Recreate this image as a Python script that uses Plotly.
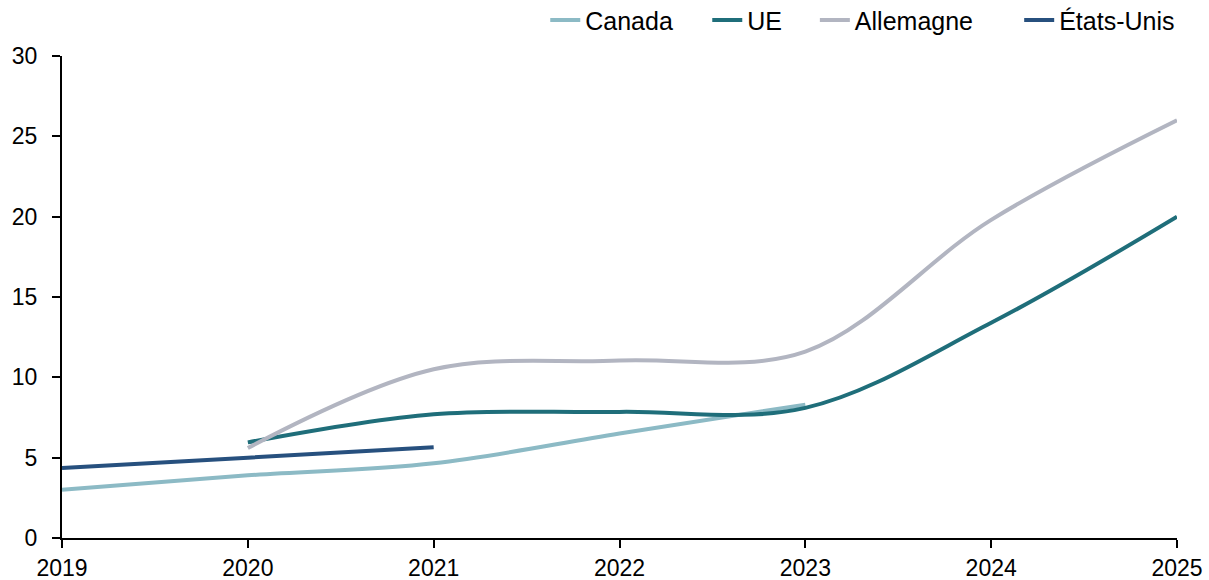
import plotly.graph_objects as go

years = [2019, 2020, 2021, 2022, 2023, 2024, 2025]

canada = [3.0, 3.9, 4.65, 6.5, 8.3, None, None]
ue = [None, 5.95, 7.7, 7.85, 8.1, 13.4, 20.0]
allemagne = [None, 5.6, 10.5, 11.05, 11.6, 19.8, 26.0]
etats_unis = [4.35, 5.0, 5.65, None, None, None, None]

series = [
    ("Canada", canada, "#8cbac5"),
    ("UE", ue, "#1f6e7a"),
    ("Allemagne", allemagne, "#b2b5c1"),
    ("États-Unis", etats_unis, "#27507e"),
]

# left edge (container fraction) of each legend entry along the top row
legend_x = [0.451, 0.585, 0.674, 0.843]

family = "Arial, Liberation Sans, sans-serif"
tick_font = dict(family=family, size=23, color="#000000")
legend_font = dict(family=family, size=25, color="#000000")

fig = go.Figure()
legends = {}
for i, (name, values, color) in enumerate(series):
    key = "legend" if i == 0 else f"legend{i + 1}"
    fig.add_trace(go.Scatter(
        x=years, y=values, name=name, mode="lines",
        line=dict(color=color, width=4, shape="spline", smoothing=1.0),
        connectgaps=False, legend=key,
    ))
    legends[key] = dict(orientation="h", x=legend_x[i], xanchor="left",
                        xref="container", y=0.965, yanchor="middle",
                        yref="container", font=legend_font,
                        bgcolor="rgba(0,0,0,0)")

fig.update_layout(
    width=1209, height=580,
    margin=dict(l=62, r=32, t=56, b=42, autoexpand=False),
    paper_bgcolor="white", plot_bgcolor="white",
    font=tick_font,
    showlegend=True,
    **legends,
    xaxis=dict(range=[2019, 2025], tickmode="array", tickvals=years,
               ticktext=[str(y) for y in years], showgrid=False, zeroline=False,
               showline=True, linecolor="#000000", linewidth=2,
               ticks="outside", ticklen=8, tickwidth=1.5, tickcolor="#000000",
               ticklabelstandoff=0, tickfont=tick_font, automargin=False),
    yaxis=dict(range=[0, 30], dtick=5, showgrid=False, zeroline=False,
               showline=True, linecolor="#000000", linewidth=2,
               ticks="outside", ticklen=8, tickwidth=1.5, tickcolor="#000000",
               ticklabelstandoff=10, tickfont=tick_font, automargin=False),
)

fig.write_html("out.html")
